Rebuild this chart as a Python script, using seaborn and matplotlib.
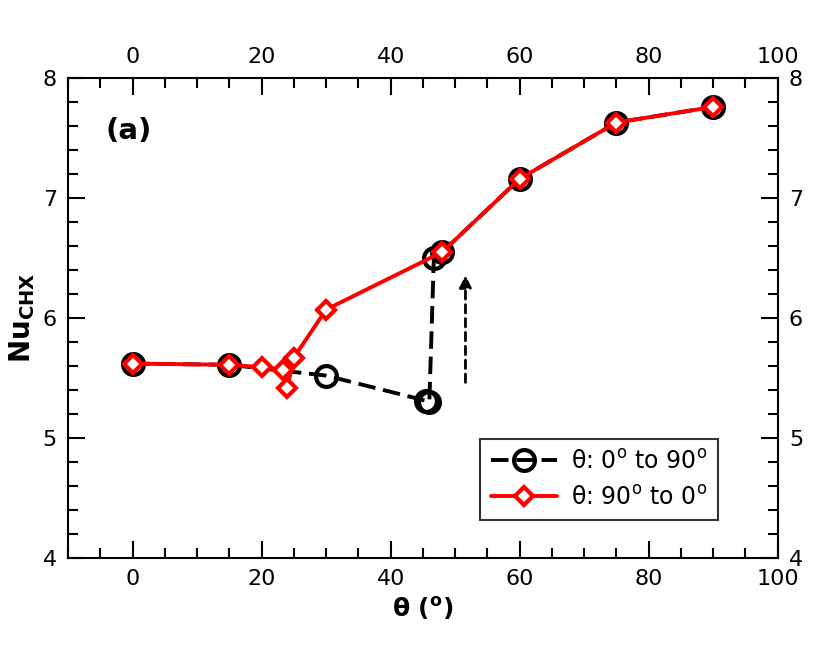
import numpy as np
import pandas as pd
import matplotlib
matplotlib.use("Agg")
import matplotlib.pyplot as plt
import seaborn as sns
from matplotlib.ticker import MultipleLocator

# dados
theta_subida = [0, 15, 30, 45.5, 46, 46.7, 48, 60, 75, 90]
nu_subida = [5.62, 5.61, 5.52, 5.31, 5.30, 6.50, 6.55, 7.16, 7.63, 7.76]

theta_descida = [90, 75, 60, 48, 30, 25, 24, 23.3, 20, 15, 0]
nu_descida = [7.76, 7.63, 7.16, 6.55, 6.07, 5.67, 5.42, 5.57, 5.59, 5.61, 5.62]

rotulo_subida = "θ: 0$^\\mathregular{o}$ to 90$^\\mathregular{o}$"
rotulo_descida = "θ: 90$^\\mathregular{o}$ to 0$^\\mathregular{o}$"

seta_x = 51.6
seta_y0, seta_y1 = 5.44, 6.38

sns.set_style("ticks")
plt.rcParams['font.family'] = ['DejaVu Sans']
plt.rcParams['mathtext.default'] = 'regular'
for k in ['text.color', 'axes.labelcolor', 'xtick.color', 'ytick.color', 'axes.edgecolor']:
    plt.rcParams[k] = 'black'

fig = plt.figure(figsize=(8.3, 6.51), dpi=100)
ax = fig.add_axes([0.082, 0.143, 0.855, 0.737])

df1 = pd.DataFrame({"theta": theta_subida, "nu": nu_subida})
df2 = pd.DataFrame({"theta": theta_descida, "nu": nu_descida})

sns.lineplot(data=df1, x="theta", y="nu", sort=False, ax=ax, color="black",
             linewidth=2.8, linestyle=(0, (4.5, 2)), marker="o", markersize=15,
             markerfacecolor="none", markeredgecolor="black", markeredgewidth=3,
             label=rotulo_subida, zorder=2)
sns.lineplot(data=df2, x="theta", y="nu", sort=False, ax=ax, color="red",
             linewidth=2.8, marker="D", markersize=9,
             markerfacecolor="white", markeredgecolor="red", markeredgewidth=3,
             label=rotulo_descida, zorder=3)

ax.annotate("", xy=(seta_x, seta_y1), xytext=(seta_x, seta_y0),
            arrowprops=dict(arrowstyle="-|>", color="black", lw=2,
                            linestyle=(0, (3, 2)), mutation_scale=18))

ax.text(-4.2, 7.56, "(a)", fontsize=21, fontweight="bold", va="center")

ax.set_xlim(-10, 100)
ax.set_ylim(4, 8)
ax.xaxis.set_major_locator(MultipleLocator(20))
ax.xaxis.set_minor_locator(MultipleLocator(5))
ax.yaxis.set_major_locator(MultipleLocator(1))
ax.yaxis.set_minor_locator(MultipleLocator(0.2))
ax.tick_params(which="both", direction="in", top=True, right=True,
               labeltop=True, labelright=True, width=1.5, labelsize=16, pad=8)
ax.tick_params(which="major", length=12)
ax.tick_params(which="minor", length=7)
for s in ax.spines.values():
    s.set_linewidth(1.5)

ax.set_xlabel("θ ($^\\mathregular{o}$)", fontsize=18, fontweight="bold")
ax.set_ylabel("$\\mathbf{Nu_{CHX}}$", fontsize=20)

leg = ax.legend(loc="lower right", bbox_to_anchor=(0.916, 0.079), borderaxespad=0,
                fontsize=17, frameon=True, fancybox=False, edgecolor="black",
                handlelength=2.8, borderpad=0.45, handletextpad=0.6)
leg.get_frame().set_linewidth(1.5)

fig.savefig("out.png", dpi=100)
